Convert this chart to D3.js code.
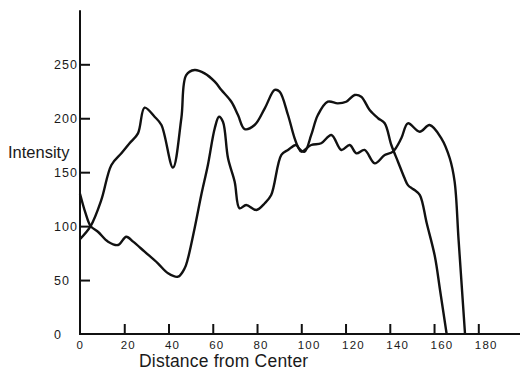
<!DOCTYPE html>
<html>
<head>
<meta charset="utf-8">
<script src="https://cdn.jsdelivr.net/npm/d3@7"></script>
<style>
  body { margin: 0; background: #fff; }
  text { font-family: "Liberation Sans", Arial, sans-serif; fill: #1a1a1a; }
</style>
</head>
<body>
<svg id="chart" width="520" height="376"></svg>
<script>
// curve that starts low (~90) at the center
const distA = [0, 4.8, 9.6, 14.2, 18.7, 22.4, 26.2, 29.2, 33.7, 36.8, 42, 45.8, 48, 51.8, 56.3, 60.9, 63.9, 68.4, 71.4, 74.4, 78.9, 83.5, 88, 90.2, 94, 97, 99, 101.5, 104.5, 107.5, 112, 116.5, 120.3, 124.1, 127.1, 130.9, 134.7, 137.7, 140.7, 143.7, 146.7, 148.2, 150, 151.2, 153.6, 156.7, 160.4, 162.7, 165.7];
const intensityA = [88, 100, 124, 156.7, 167.5, 176.8, 186, 209.8, 201.4, 193.7, 154.2, 200, 240, 244.7, 241.6, 233.9, 226.2, 215.3, 203, 190, 193.7, 209.2, 226.2, 224.6, 203, 181.4, 172, 169, 184.5, 203, 215.3, 213.8, 215.3, 221.5, 220, 207.6, 200, 195.3, 175.2, 159.7, 144.3, 138, 135, 133.5, 128.8, 102.6, 71.7, 40.8, 0];

// curve that starts high (~130) at the center
const distB = [0, 2.5, 4.8, 8.1, 12.7, 17.2, 20.9, 24, 29.2, 35.2, 39.8, 44.3, 47.3, 48.8, 51.8, 54.8, 57.8, 60.9, 62.8, 64.6, 66.9, 69.9, 72.1, 75.1, 79.7, 83.5, 86.4, 91, 94, 97.7, 100, 104.5, 109, 113.6, 118.1, 121.9, 124.9, 128.6, 133.2, 137.7, 141.4, 145.2, 148.2, 153.5, 158, 163.3, 167.1, 169.3, 171.1, 174];
const intensityB = [130, 112, 100, 94.8, 85.6, 82.5, 90.2, 85.6, 76.3, 65.5, 56.3, 53.1, 60.9, 70.2, 98, 128.8, 156.7, 190.7, 201.4, 196.8, 162.9, 141.2, 116.5, 119.6, 115, 121.2, 128.8, 166, 170.6, 175.2, 169, 175.2, 176.8, 184.5, 170.6, 175.2, 167.5, 170.6, 158.2, 165.9, 169, 181.4, 195.3, 187.5, 193.7, 181.4, 162.9, 141.2, 87, 0];

const xTicks = [20, 40, 60, 80, 100, 120, 140, 160, 180];
const yTicks = [50, 100, 150, 200, 250];
const yLabels = [0, 50, 100, 150, 200, 250];

const svg = d3.select('#chart');

const x = d3.scaleLinear().domain([0, 180]).range([80, 478.3]);
const y = d3.scaleLinear().domain([0, 250]).range([334, 64.3]);

// axis lines
svg.append('line')
  .attr('x1', x(0)).attr('x2', x(200))
  .attr('y1', y(0)).attr('y2', y(0))
  .attr('stroke', '#111').attr('stroke-width', 2);

svg.append('line')
  .attr('x1', x(0)).attr('x2', x(0))
  .attr('y1', y(0) + 1).attr('y2', y(300))
  .attr('stroke', '#111').attr('stroke-width', 2);

// x ticks (inside) and labels
const xAxis = svg.append('g')
  .attr('transform', `translate(0,${y(0)})`)
  .call(d3.axisBottom(x).tickValues(xTicks).tickSize(-10).tickSizeOuter(0));
xAxis.select('.domain').remove();
xAxis.selectAll('.tick line').attr('stroke', '#111').attr('stroke-width', 2);
xAxis.selectAll('.tick text').remove();

svg.selectAll('.xlab')
  .data([0].concat(xTicks))
  .enter().append('text')
  .attr('class', 'xlab')
  .attr('x', d => x(d) - 3.5)
  .attr('y', 348.5)
  .attr('font-size', 11.5)
  .attr('letter-spacing', 1.2)
  .text(d => d);

// y ticks (inside) and labels
const yAxis = svg.append('g')
  .attr('transform', `translate(${x(0)},0)`)
  .call(d3.axisRight(y).tickValues(yTicks).tickSize(10).tickSizeOuter(0));
yAxis.select('.domain').remove();
yAxis.selectAll('.tick line').attr('stroke', '#111').attr('stroke-width', 2);
yAxis.selectAll('.tick text').remove();

svg.selectAll('.ylab')
  .data(yLabels)
  .enter().append('text')
  .attr('class', 'ylab')
  .attr('x', 54)
  .attr('y', d => y(d) + 5)
  .attr('font-size', 12.5)
  .attr('letter-spacing', 1.1)
  .text(d => d);

// axis titles
svg.append('text')
  .attr('x', 8)
  .attr('y', 158)
  .attr('font-size', 16.5)
  .text('Intensity');

svg.append('text')
  .attr('x', 139)
  .attr('y', 367)
  .attr('font-size', 17.5)
  .attr('letter-spacing', 0.2)
  .text('Distance from Center');

// curves
const line = d3.line()
  .x(d => x(d[0]))
  .y(d => y(d[1]))
  .curve(d3.curveCatmullRom.alpha(0.5));

[[distA, intensityA], [distB, intensityB]].forEach(([dx, dy]) => {
  svg.append('path')
    .datum(dx.map((v, i) => [v, dy[i]]))
    .attr('d', line)
    .attr('fill', 'none')
    .attr('stroke', '#111')
    .attr('stroke-width', 2.4)
    .attr('stroke-linejoin', 'round');
});
</script>
</body>
</html>
